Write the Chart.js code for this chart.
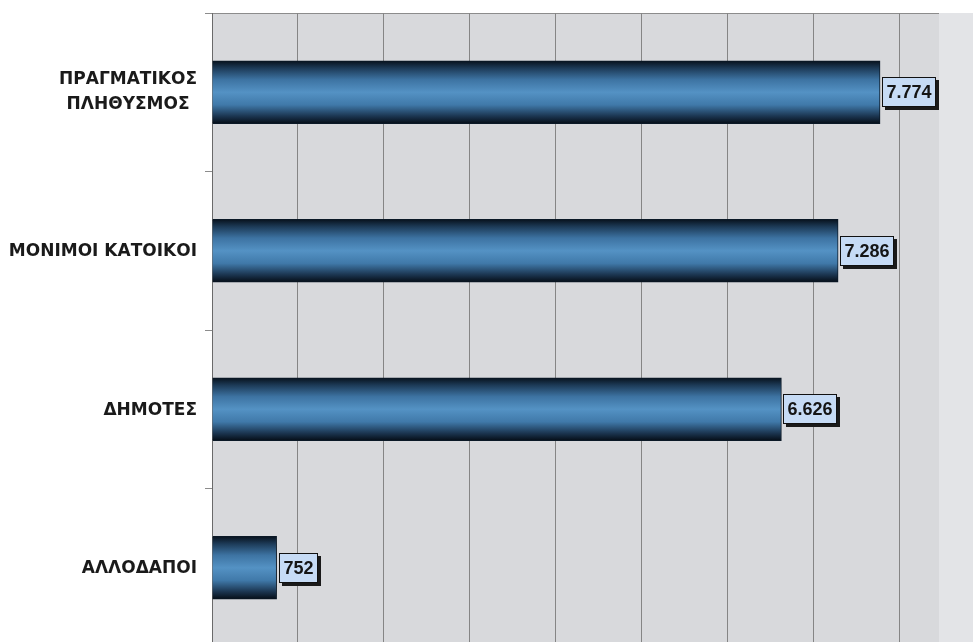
<!DOCTYPE html>
<html>
<head>
<meta charset="utf-8">
<script src="https://cdn.jsdelivr.net/npm/chart.js@4.4.1/dist/chart.umd.min.js"></script>
<style>
  body { margin: 0; background: #ffffff; }
  #wrap { width: 973px; height: 642px; overflow: hidden; }
  #inner { width: 973px; height: 648px; position: relative; }
</style>
</head>
<body>
<div id="wrap"><div id="inner"><canvas id="myChart"></canvas></div></div>
<script>
//data
const categories = [["ΠΡΑΓΜΑΤΙΚΟΣ", "ΠΛΗΘΥΣΜΟΣ"], "ΜΟΝΙΜΟΙ ΚΑΤΟΙΚΟΙ", "ΔΗΜΟΤΕΣ", "ΑΛΛΟΔΑΠΟΙ"];
const values = [7774, 7286, 6626, 752];
const xTicks = [0, 1000, 2000, 3000, 4000, 5000, 6000, 7000, 8000];
const xMax = 8460;

const barSize = 63;
const labelFont = "bold 17px 'DejaVu Sans', sans-serif";
const valueFont = "bold 18px 'Liberation Sans', Arial, sans-serif";

function greekNumber(v){
  return String(v).replace(/\B(?=(\d{3})+(?!\d))/g, ".");
}

//bar gradient, dark edges and a lighter middle
function barFill(c){
  const chart = c.chart;
  const y = chart.scales.y;
  if (!chart.chartArea || !y || c.dataIndex === undefined) return "#3f78a8";
  const cy = y.getPixelForValue(c.dataIndex);
  const g = chart.ctx.createLinearGradient(0, cy - barSize/2, 0, cy + barSize/2);
  g.addColorStop(0, "#07111c");
  g.addColorStop(0.12, "#1d3b58");
  g.addColorStop(0.3, "#3d73a2");
  g.addColorStop(0.5, "#5492c4");
  g.addColorStop(0.7, "#4079a9");
  g.addColorStop(0.88, "#1b3550");
  g.addColorStop(1, "#050d16");
  return g;
}

//plot background + right strip + top line
const plotBg = {
  id: "plotBg",
  beforeDraw(chart){
    const ctx = chart.ctx;
    const a = chart.chartArea;
    ctx.save();
    ctx.fillStyle = "#d8d9dc";
    ctx.fillRect(a.left, a.top, a.right - a.left, a.bottom - a.top);
    ctx.fillStyle = "#e3e4e7";
    ctx.fillRect(a.right, a.top, chart.width - a.right, a.bottom - a.top);
    ctx.strokeStyle = "#8c8c8c";
    ctx.lineWidth = 1;
    ctx.beginPath();
    ctx.moveTo(a.left - 7, a.top + 0.5);
    ctx.lineTo(a.right, a.top + 0.5);
    ctx.stroke();
    ctx.restore();
  }
};

//category names, two-line one is centred on itself
const catLabels = {
  id: "catLabels",
  afterDraw(chart){
    const ctx = chart.ctx;
    const y = chart.scales.y;
    const rightX = y.right - 7 - 8;
    ctx.save();
    ctx.font = labelFont;
    ctx.fillStyle = "#1a1a1a";
    ctx.textBaseline = "middle";
    categories.forEach(function(lab, i){
      const cy = y.getPixelForValue(i);
      if (Array.isArray(lab)) {
        const lineH = 25;
        let widest = 0;
        lab.forEach(function(l){ widest = Math.max(widest, ctx.measureText(l).width); });
        ctx.textAlign = "center";
        lab.forEach(function(l, k){
          ctx.fillText(l, rightX - widest/2, cy + (k - (lab.length - 1)/2) * lineH);
        });
      } else {
        ctx.textAlign = "right";
        ctx.fillText(lab, rightX, cy + 1);
      }
    });
    ctx.restore();
  }
};

//value boxes next to the bars
const valueBoxes = {
  id: "valueBoxes",
  afterDatasetsDraw(chart){
    const ctx = chart.ctx;
    const meta = chart.getDatasetMeta(0);
    ctx.save();
    ctx.font = valueFont;
    ctx.textBaseline = "middle";
    ctx.textAlign = "left";
    meta.data.forEach(function(bar, i){
      const txt = greekNumber(values[i]);
      const w = Math.round(ctx.measureText(txt).width + 9);
      const h = 30;
      const x = Math.round(bar.x) + 2;
      const y = Math.round(bar.y - h/2);
      ctx.fillStyle = "#1a1a1a";
      ctx.fillRect(x + 3, y + 3, w, h);
      ctx.fillStyle = "#c6dbf5";
      ctx.fillRect(x, y, w, h);
      ctx.strokeStyle = "#111111";
      ctx.lineWidth = 1;
      ctx.strokeRect(x + 0.5, y + 0.5, w - 1, h - 1);
      ctx.fillStyle = "#151515";
      ctx.fillText(txt, x + 4.5, y + h/2 + 1);
    });
    ctx.restore();
  }
};

new Chart("myChart", {
  type: "bar",
  data: {
    labels: categories,
    datasets: [{
      data: values,
      backgroundColor: barFill,
      borderColor: "#0a1826",
      borderWidth: 1,
      borderSkipped: "left",
      barThickness: barSize
    }]
  },
  options: {
    indexAxis: "y",
    responsive: true,
    maintainAspectRatio: false,
    animation: false,
    layout: { padding: { top: 13, right: 34, bottom: 1, left: 0 } },
    plugins: {
      legend: { display: false },
      tooltip: { enabled: false }
    },
    scales: {
      x: {
        min: 0,
        max: xMax,
        afterBuildTicks(scale){ scale.ticks = xTicks.map(function(v){ return { value: v }; }); },
        afterFit(scale){ scale.height = 0; scale.paddingLeft = 0; scale.paddingRight = 0; },
        ticks: { display: false },
        grid: { color: "#858585", lineWidth: 1, drawTicks: false },
        border: { display: false }
      },
      y: {
        afterFit(scale){ scale.width = 212; scale.paddingTop = 0; scale.paddingBottom = 0; },
        ticks: { display: false },
        grid: { offset: true, drawOnChartArea: false, tickLength: 7, color: "#8c8c8c" },
        border: { display: true, color: "#6a6a6a" }
      }
    }
  },
  plugins: [plotBg, catLabels, valueBoxes]
});
</script>
</body>
</html>
